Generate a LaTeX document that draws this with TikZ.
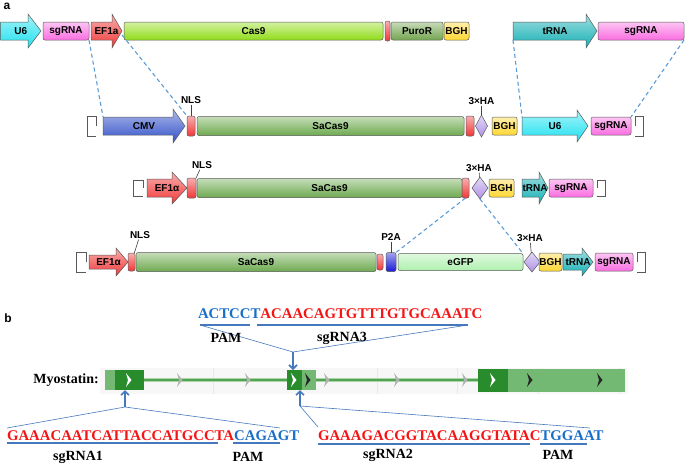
\documentclass[tikz,border=0pt]{standalone}
\usepackage{fontspec}
\setmainfont{Liberation Serif}
\setsansfont{Liberation Sans}
\usetikzlibrary{arrows.meta,shapes.geometric}

\definecolor{u6cyan}{RGB}{30,225,240}
\definecolor{sgpink}{RGB}{250,110,225}
\definecolor{efred}{RGB}{240,55,55}
\definecolor{caslime}{RGB}{145,220,25}
\definecolor{purogreen}{RGB}{115,165,80}
\definecolor{bghyellow}{RGB}{255,215,50}
\definecolor{trnateal}{RGB}{20,175,180}
\definecolor{cmvblue}{RGB}{50,80,200}
\definecolor{sagreen}{RGB}{110,170,80}
\definecolor{halilac}{RGB}{175,145,230}
\definecolor{p2ablue}{RGB}{25,25,215}
\definecolor{gfpgreen}{RGB}{175,240,175}
\definecolor{dashblue}{RGB}{91,155,213}
\definecolor{linkblue}{RGB}{70,120,190}
\definecolor{seqblue}{RGB}{25,110,200}
\definecolor{seqred}{RGB}{245,20,20}
\definecolor{exdark}{RGB}{40,140,45}
\definecolor{exlight}{RGB}{115,185,115}
\definecolor{intron}{RGB}{95,180,95}

\tikzset{
  gline/.style={draw=black!65, line width=0.5pt},
  gbox/.style={gline, rounded corners=2pt, inner sep=0pt, outer sep=0pt, font=\sffamily\bfseries\fontsize{10}{11}\selectfont},
  glabel/.style={inner sep=0pt, outer sep=0pt, font=\sffamily\bfseries\fontsize{10}{11}\selectfont},
  featlab/.style={inner sep=1pt, font=\sffamily\bfseries\fontsize{10}{11}\selectfont},
  hadia/.style={diamond, gline, top color=halilac!35!white, bottom color=halilac, inner sep=0pt, outer sep=0pt, minimum width=12pt, minimum height=22pt},
  leader/.style={draw=black!75, line width=0.6pt},
  backbone/.style={draw=black!55, line width=0.4pt, double=white, double distance=1.2pt},
  dashlink/.style={draw=dashblue, line width=1.1pt, dash pattern=on 4pt off 3pt},
  seq/.style={inner sep=0pt, outer sep=0pt, font=\bfseries\fontsize{14.8}{16}\selectfont},
  seqlab/.style={inner sep=0pt, font=\bfseries\fontsize{14}{16}\selectfont},
  uline/.style={draw=linkblue, line width=1.3pt},
  fan/.style={draw=linkblue, line width=0.6pt},
  cut/.style={draw=linkblue, line width=1.6pt, -{Straight Barb[length=4pt,width=8pt]}},
  exon/.style={inner sep=0pt, outer sep=0pt, fill=exdark},
}

% name, tail x, head x, tip x, y, half body, half head, colour, text
\newcommand{\genearrow}[9]{%
  \draw[gline, top color=#8!40!white, bottom color=#8] (#2,#5-#6) -- (#3,#5-#6) -- (#3,#5-#7) -- (#4,#5) -- (#3,#5+#7) -- (#3,#5+#6) -- (#2,#5+#6) -- cycle;
  \coordinate (#1 nw) at (#2,#5-#6);
  \coordinate (#1 sw) at (#2,#5+#6);
  \coordinate (#1 tip) at (#4,#5);
  \node[glabel] (#1) at ({(#2+#4)/2},#5) {#9};}
% name, left x, right x, y, half height, colour, text
\newcommand{\genebox}[7]{%
  \node[gbox, top color=#6!40!white, bottom color=#6, minimum width={(#3-#2)*1pt}, minimum height={2*#5*1pt}] (#1) at ({(#2+#3)/2},#4) {#7};}
\newcommand{\leftend}[4]{\draw[gline, fill=white] (#2,#3) -- (#2,#3-#4) -- (#1,#3-#4) -- (#1,#3+#4) -- (#2,#3+#4);}
\newcommand{\rightend}[4]{\draw[gline, fill=white] (#1,#3) -- (#1,#3-#4) -- (#2,#3-#4) -- (#2,#3+#4) -- (#1,#3+#4);}
\newcommand{\chev}[3]{\fill[#3] (#1-3,#2-7) -- (#1+2.5,#2) -- (#1-3,#2+7) -- (#1-1,#2) -- cycle;}

\begin{document}
\begin{tikzpicture}[x=1pt,y=-1pt]
    \useasboundingbox (0,0) rectangle (685,464);
    \node[font=\sffamily\bfseries\fontsize{12}{12}\selectfont, inner sep=0pt] (laba) at (7,6) {a};

    % first row
    \draw[backbone] (30,31) -- (469,31);
    \genearrow{uu}{0.5}{28}{41}{31}{9}{17}{u6cyan}{U6}
    \genebox{sga}{43}{89}{31}{9}{sgpink}{sgRNA}
    \genearrow{efa}{91}{112}{122}{31}{9}{17}{efred}{EF1a}
    \genebox{casa}{124}{383}{31}{9}{caslime}{Cas9}
    \genebox{reda}{385}{390}{31}{10}{efred}{}
    \genebox{puroa}{391}{443}{31}{9}{purogreen}{PuroR}
    \genebox{bgha}{444}{469}{31}{9}{bghyellow}{BGH}
    \genearrow{trnaa}{513}{586}{597}{31}{9}{17}{trnateal}{tRNA}
    \genebox{sgb}{598}{684}{31}{9}{sgpink}{sgRNA}

    % second row
    \draw[backbone] (96,126) -- (635,126);
    \leftend{87}{96}{126}{10}
    \genearrow{cmvb}{103}{173}{185}{126}{9}{17}{cmvblue}{CMV}
    \genebox{nlsb}{187}{195}{126}{10}{efred}{}
    \genebox{sab}{197}{464}{126}{9.5}{sagreen}{SaCas9}
    \genebox{redb}{466}{474}{126}{10}{efred}{}
    \node[hadia] (hab) at (481.5,126) {};
    \genebox{bghb}{492}{517}{126}{9}{bghyellow}{BGH}
    \genearrow{u6b}{522}{577}{588}{126}{9}{16}{u6cyan}{U6}
    \genebox{sgc}{591}{631}{126}{9}{sgpink}{sgRNA}
    \rightend{635}{643}{126}{10}
    \node[featlab] (nlslb) at (191,100) {NLS};
    \draw[leader] (nlslb) -- (nlsb);
    \node[featlab] (halb) at (481.5,101) {3×HA};
    \draw[leader] (halb) -- (hab);

    % third row
    \draw[backbone] (143,188) -- (597,188);
    \leftend{133}{143}{188}{8}
    \genearrow{efc}{147}{172}{187}{188}{9}{16}{efred}{EF1α}
    \genebox{nlsc}{187}{196}{188}{10}{efred}{}
    \genebox{sac}{197}{462}{188}{9.5}{sagreen}{SaCas9}
    \genebox{redc}{462}{469}{188}{10}{efred}{}
    \node[hadia, minimum width=16pt] (hac) at (480,188) {};
    \genebox{bghc}{489}{514}{188}{9}{bghyellow}{BGH}
    \genearrow{trnac}{522}{539}{548}{188}{9}{16}{trnateal}{tRNA}
    \genebox{sgd}{549}{593}{188}{9}{sgpink}{sgRNA}
    \rightend{597}{605}{188}{8}
    \node[featlab] (nlslc) at (202,165) {NLS};
    \draw[leader] (nlslc) -- (nlsc);
    \node[featlab] (halc) at (479,168) {3×HA};
    \draw[leader] (halc) -- (hac);

    % fourth row
    \draw[backbone] (86,262) -- (637,262);
    \leftend{76}{86}{262}{10}
    \genearrow{efd}{89}{116}{128}{262}{7}{14}{efred}{EF1α}
    \genebox{nlsd}{128}{135}{262}{9}{efred}{}
    \genebox{sad}{136}{376}{262}{9.5}{sagreen}{SaCas9}
    \genebox{redd}{377}{383}{262}{8}{efred}{}
    \genebox{p2ad}{386}{396}{262}{9.5}{p2ablue}{}
    \genebox{gfpd}{398}{523}{262}{8.5}{gfpgreen}{eGFP}
    \node[hadia, minimum width=16pt, minimum height=20pt] (had) at (532,262) {};
    \genebox{bghd}{539}{562}{262}{9}{bghyellow}{BGH}
    \genearrow{trnad}{563}{582}{593}{262}{8}{14}{trnateal}{tRNA}
    \genebox{sge}{595}{633}{262}{9}{sgpink}{sgRNA}
    \rightend{637}{645}{262}{10}
    \node[featlab] (nlsld) at (140,235) {NLS};
    \draw[leader] (nlsld) -- (nlsd);
    \node[featlab] (p2al) at (391,237) {P2A};
    \draw[leader] (p2al) -- (p2ad);
    \node[featlab] (hald) at (530,238) {3×HA};
    \draw[leader] (hald) -- (had);

    % dashed links
    \draw[dashlink] (sga.south east) -- (cmvb nw);
    \draw[dashlink] ([yshift=-4pt]efa tip) -- (nlsb.north west);
    \draw[dashlink] (trnaa sw) -- (u6b nw);
    \draw[dashlink] (sgb.south east) -- (sgc.north east);
    \draw[dashlink] (redc.south) -- (p2ad.north east);
    \draw[dashlink] (hac.south) -- (gfpd.north east);

    % part b
    \node[font=\sffamily\bfseries\fontsize{12}{12}\selectfont, inner sep=0pt] (labb) at (8,318) {b};

    % gene track
    \node[seqlab, anchor=east] (myo) at (99,380) {Myostatin:};
    \fill[black!3] (100,368) rectangle (628,394);
    \foreach \g in {213,377,457,538,620}
        \draw[black!9, line width=0.5pt] (\g,368) -- (\g,394);
    \draw[intron!55, line width=3.5pt] (144,380) -- (625,380);
    \draw[intron!90!black, line width=1.2pt] (144,380) -- (625,380);
    \fill[exlight] (105,370) rectangle (115,390);
    \node[exon, minimum width=29pt, minimum height=20pt] (ex1) at (129.5,380) {};
    \node[exon, minimum width=15pt, minimum height=20pt] (ex2) at (294.5,380) {};
    \fill[exlight] (302,370) rectangle (316,390);
    \node[exon, minimum width=30pt, minimum height=23pt] (ex3) at (493,380.5) {};
    \fill[exlight] (508,369) rectangle (625,392);
    \foreach \c in {129,294,493} \chev{\c}{380}{white};
    \foreach \c in {308,530,600} \chev{\c}{380}{black!85};
    \foreach \c in {180,248,327,397,465} \chev{\c}{380}{black!30};

    % sgRNA3
    \node[seq, text=seqblue, anchor=west] (pam3) at (198,314) {ACTCCT};
    \node[seq, text=seqred, anchor=west] (sg3) at (pam3.east) {ACAACAGTGTTTGTGCAAATC};
    \coordinate (u3a) at (200,325);
    \coordinate (u3b) at (250,325);
    \coordinate (u3c) at (257,325);
    \coordinate (u3d) at (468,325);
    \coordinate (cut3) at (293,352);
    \draw[uline] (u3a) -- (u3b);
    \draw[uline] (u3c) -- (u3d);
    \draw[fan] (u3a) -- (cut3) -- (u3d);
    \node[seqlab] (pamlab3) at (226,338) {PAM};
    \node[seqlab] (sglab3) at (342,338) {sgRNA3};
    \draw[cut] (cut3) -- (cut3 |- ex2.north);

    % sgRNA1
    \node[seq, text=seqred, anchor=west] (sg1) at (7,436) {GAAACAATCATTACCATGCCTA};
    \node[seq, text=seqblue, anchor=west] (pam1) at (sg1.east) {CAGAGT};
    \coordinate (u1a) at (7,443);
    \coordinate (u1b) at (218,443);
    \coordinate (u1c) at (233,443);
    \coordinate (u1d) at (280,443);
    \coordinate (f1a) at (7,428);
    \coordinate (f1b) at (280,428);
    \coordinate (cut1) at (125,407);
    \draw[uline] (u1a) -- (u1b);
    \draw[uline] (u1c) -- (u1d);
    \draw[fan] (f1a) -- (cut1) -- (f1b);
    \node[seqlab] (sglab1) at (78,457) {sgRNA1};
    \node[seqlab] (pamlab1) at (248,457) {PAM};
    \draw[cut] (cut1) -- (cut1 |- ex1.south);

    % sgRNA2
    \node[seq, text=seqred, anchor=west] (sg2) at (318,436) {GAAAGACGGTACAAGGTATAC};
    \node[seq, text=seqblue, anchor=west] (pam2) at (sg2.east) {TGGAAT};
    \coordinate (u2a) at (318,444);
    \coordinate (u2b) at (530,444);
    \coordinate (u2c) at (540,444);
    \coordinate (u2d) at (587,444);
    \coordinate (f2a) at (318,427);
    \coordinate (f2b) at (590,428);
    \coordinate (cut2) at (300,406);
    \draw[uline] (u2a) -- (u2b);
    \draw[uline] (u2c) -- (u2d);
    \draw[fan] (f2a) -- (cut2) -- (f2b);
    \node[seqlab] (sglab2) at (388,455) {sgRNA2};
    \node[seqlab] (pamlab2) at (558,455) {PAM};
    \draw[cut] (cut2) -- (cut2 |- ex2.south);
\end{tikzpicture}
\end{document}
